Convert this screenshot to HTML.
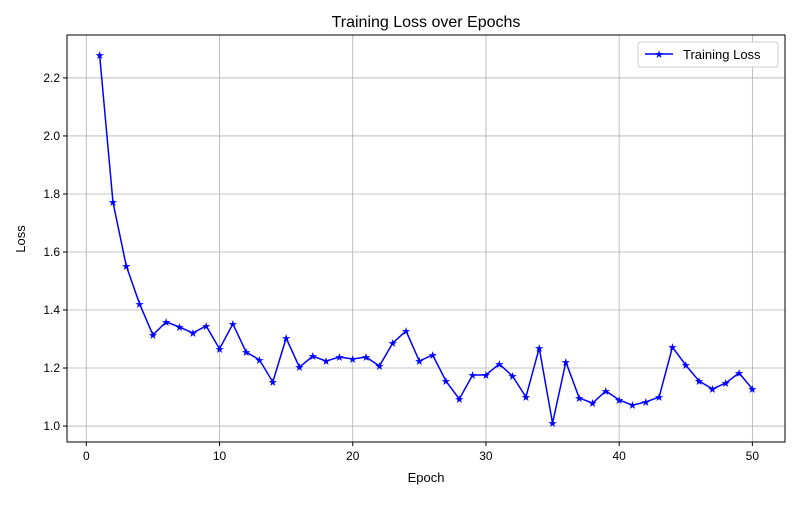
<!DOCTYPE html>
<html><head><meta charset="utf-8"><style>
body{margin:0;background:#fff;font-family:"Liberation Sans",sans-serif}
svg text{font-family:"Liberation Sans","DejaVu Sans",sans-serif}
</style></head><body>
<svg id="chart" width="800" height="500" xmlns="http://www.w3.org/2000/svg">
<rect width="800" height="500" fill="#fff"/>
<g id="grid"></g>
<g id="ticks"></g>
<g id="series"></g>
<rect x="67" y="35" width="718" height="407" fill="none" stroke="#000" stroke-width="1"/>
<text x="426" y="27" text-anchor="middle" font-size="16">Training Loss over Epochs</text>
<text x="426" y="482" text-anchor="middle" font-size="13">Epoch</text>
<text x="25" y="239" text-anchor="middle" font-size="13" transform="rotate(-90 25 239)">Loss</text>
<g>
<rect x="638" y="42" width="140" height="25" rx="3" fill="#fff" stroke="#ccc"/>
<line x1="645" y1="54" x2="673" y2="54" stroke="#0000ff" stroke-width="1.5"/>
<text x="659" y="58" text-anchor="middle" font-size="11" fill="#0000ff">★</text>
<text x="683" y="59" font-size="13">Training Loss</text>
</g>
</svg>
<script>
const epochs=[];for(let i=1;i<=50;i++)epochs.push(i);
const loss=[2.279,1.772,1.552,1.421,1.314,1.359,1.341,1.321,1.345,1.266,1.352,1.255,1.228,1.152,1.303,1.203,1.241,1.224,1.238,1.231,1.238,1.207,1.286,1.328,1.224,1.245,1.155,1.093,1.176,1.176,1.214,1.172,1.1,1.269,1.01,1.221,1.097,1.079,1.121,1.09,1.072,1.083,1.1,1.272,1.21,1.155,1.128,1.148,1.183,1.128];
const xTicks=[0,10,20,30,40,50];
const yTicks=[1.0,1.2,1.4,1.6,1.8,2.0,2.2];
const L=67,R=785,T=35,B=442,xmin=-1.45,xmax=52.45,ymin=0.945,ymax=2.348;
const sx=v=>L+(v-xmin)/(xmax-xmin)*(R-L);
const sy=v=>B-(v-ymin)/(ymax-ymin)*(B-T);
const NS="http://www.w3.org/2000/svg";
function mk(tag,attrs,parent){const e=document.createElementNS(NS,tag);for(const k in attrs)e.setAttribute(k,attrs[k]);document.getElementById(parent).appendChild(e);return e;}
xTicks.forEach(t=>{const x=sx(t);
const g=mk('line',{x1:x,x2:x,y1:T,y2:B,stroke:'#b0b0b0','stroke-width':0.8},'grid');


mk('line',{x1:x,x2:x,y1:B,y2:B+4,stroke:'#000'},'ticks');
const tx=mk('text',{x:x,y:B+18,'text-anchor':'middle','font-size':12},'ticks');tx.textContent=t;

});
yTicks.forEach(t=>{const y=sy(t);
const g=mk('line',{x1:L,x2:R,y1:y,y2:y,stroke:'#b0b0b0','stroke-width':0.8},'grid');


mk('line',{x1:L-4,x2:L,y1:y,y2:y,stroke:'#000'},'ticks');
const tx=mk('text',{x:L-7,y:y+4,'text-anchor':'end','font-size':12},'ticks');tx.textContent=t.toFixed(1);

});
const pts=epochs.map((e,i)=>sx(e)+','+sy(loss[i])).join(' ');
const pl=mk('polyline',{points:pts,fill:'none',stroke:'#0000ff','stroke-width':1.5},'series');


epochs.forEach((e,i)=>{const m=mk('text',{x:sx(e),y:sy(loss[i])+4,'text-anchor':'middle','font-size':11,fill:'#0000ff'},'series');m.textContent='★';

});
</script>
</body></html>
